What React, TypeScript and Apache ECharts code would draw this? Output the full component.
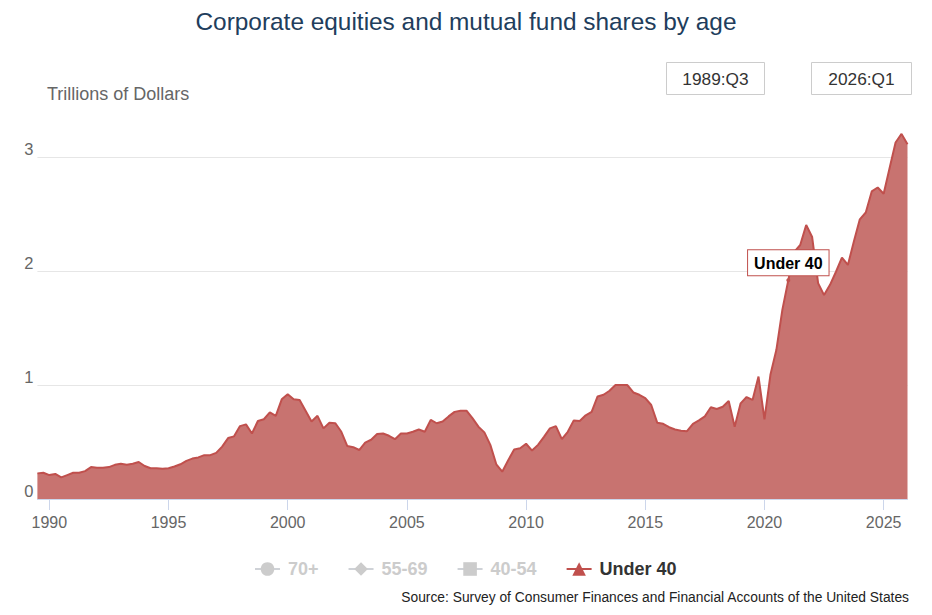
import React, { useEffect, useRef } from "react";
import * as echarts from "echarts";

const startYear = 1989;
const startQuarter = 3;

const under40 = [
  0.225, 0.23, 0.21, 0.22, 0.19, 0.21, 0.23, 0.23, 0.245, 0.28,
  0.275, 0.275, 0.28, 0.3, 0.31, 0.3, 0.31, 0.325, 0.29, 0.27,
  0.27, 0.265, 0.27, 0.285, 0.305, 0.335, 0.355, 0.365, 0.385, 0.385,
  0.405, 0.46, 0.535, 0.55, 0.64, 0.655, 0.575, 0.685, 0.7, 0.76,
  0.73, 0.875, 0.92, 0.875, 0.87, 0.775, 0.68, 0.73, 0.62, 0.67,
  0.665, 0.59, 0.465, 0.455, 0.43, 0.495, 0.52, 0.57, 0.575, 0.555,
  0.525, 0.575, 0.575, 0.59, 0.61, 0.59, 0.695, 0.665, 0.68, 0.725,
  0.765, 0.775, 0.775, 0.71, 0.635, 0.585, 0.475, 0.305, 0.24, 0.34,
  0.435, 0.445, 0.485, 0.425, 0.475, 0.545, 0.62, 0.64, 0.525, 0.59,
  0.69, 0.685, 0.735, 0.765, 0.9, 0.915, 0.95, 1.0, 1.0, 1.0,
  0.935, 0.915, 0.885, 0.825, 0.67, 0.66, 0.63, 0.61, 0.6, 0.595,
  0.66, 0.69, 0.725, 0.805, 0.79, 0.81, 0.86, 0.635, 0.84, 0.895,
  0.87, 1.075, 0.7, 1.09, 1.31, 1.66, 1.92, 2.17, 2.23, 2.405,
  2.3, 1.895, 1.79, 1.88, 1.995, 2.12, 2.055, 2.26, 2.455, 2.515,
  2.7, 2.735, 2.68, 2.905, 3.13, 3.205, 3.115,
];

const categories: string[] = under40.map((_, i) => {
  const q0 = startQuarter - 1 + i;
  const y = startYear + Math.floor(q0 / 4);
  const q = (q0 % 4) + 1;
  return `${y}:Q${q}`;
});

const legendNames = ["70+", "55-69", "40-54", "Under 40"];
const legendSymbols = ["circle", "diamond", "rect", "triangle"];
const yTicks = [0, 1, 2, 3];
const labelIndex = 126;
const rangeLabels = ["1989:Q3", "2026:Q1"];

const FONT = '"Liberation Sans", Arial, Helvetica, sans-serif';
const RED = "#c0504d";

export default function App() {
  const ref = useRef<HTMLDivElement>(null);
  useEffect(() => {
    document.body.style.margin = "0";
    const chart = echarts.init(ref.current!, null, { renderer: "svg" });
    const hidden = legendNames.slice(0, 3).map((n, k) => ({
      name: n,
      type: "line",
      data: [] as number[],
      symbol: legendSymbols[k],
      symbolSize: 10,
      lineStyle: { width: 2 },
    }));
    chart.setOption({
      animation: false,
      textStyle: { fontFamily: FONT },
      title: {
        text: "Corporate equities and mutual fund shares by age",
        left: "center",
        top: 9,
        padding: 0,
        textStyle: { fontSize: 24.4, fontWeight: "normal", color: "#213d5c", fontFamily: FONT },
      },
      legend: {
        data: legendNames,
        left: 254,
        top: 560,
        padding: 0,
        itemGap: 29,
        itemWidth: 25,
        itemHeight: 17,
        inactiveColor: "#cccccc",
        selected: { "70+": false, "55-69": false, "40-54": false, "Under 40": true },
        textStyle: {
          fontSize: 18,
          fontWeight: "bold",
          color: "#333333",
          fontFamily: FONT,
          padding: [0, 0, 0, 3],
        },
      },
      grid: { left: 37.4, right: 24.5, top: 128.8, bottom: 116, containLabel: false },
      xAxis: {
        type: "category",
        boundaryGap: false,
        data: categories,
        axisLine: { lineStyle: { color: "#ccd6eb", width: 1 } },
        axisTick: {
          alignWithLabel: true,
          length: 11,
          lineStyle: { color: "#ccd6eb" },
          interval: (idx: number) => (idx - 2) % 20 === 0,
        },
        axisLabel: {
          interval: (idx: number) => (idx - 2) % 20 === 0,
          formatter: (v: string) => v.slice(0, 4),
          fontSize: 16,
          color: "#666666",
          margin: 15,
          fontFamily: FONT,
        },
        splitLine: { show: false },
      },
      yAxis: {
        type: "value",
        min: yTicks[0],
        max: 3.25,
        interval: 1,
        axisLine: { show: false },
        axisTick: { show: false },
        axisLabel: {
          fontSize: 16.5,
          color: "#666666",
          margin: 4,
          verticalAlign: "bottom",
          showMaxLabel: false,
          fontFamily: FONT,
          formatter: (v: number) => (yTicks.includes(v) ? String(v) : ""),
        },
        splitLine: { show: true, showMaxLine: false, lineStyle: { color: "#e6e6e6", width: 1 } },
      },
      series: [
        ...hidden,
        {
          name: "Under 40",
          type: "line",
          data: under40,
          symbol: "triangle",
          symbolSize: 12,
          showSymbol: false,
          itemStyle: { color: RED },
          lineStyle: { color: RED, width: 2 },
          areaStyle: { color: "#c87370", opacity: 1 },
          markPoint: {
            symbol: "circle",
            symbolSize: 4,
            itemStyle: { color: RED },
            data: [
              {
                coord: [categories[labelIndex], under40[labelIndex]],
                label: {
                  show: true,
                  position: "top",
                  distance: 3,
                  formatter: "Under 40",
                  fontSize: 16,
                  fontWeight: "bold",
                  color: "#000000",
                  backgroundColor: "#ffffff",
                  borderColor: RED,
                  borderWidth: 1,
                  padding: [5, 6, 4, 6],
                  fontFamily: FONT,
                },
              },
            ],
          },
        },
      ],
      graphic: [
        {
          type: "text",
          x: 47,
          y: 94,
          style: { text: "Trillions of Dollars", fontSize: 18, fill: "#666666", fontFamily: FONT, verticalAlign: "middle" },
        },
        {
          type: "rect",
          shape: { x: 666.5, y: 62.5, width: 98, height: 32 },
          style: { fill: "#ffffff", stroke: "#cccccc", lineWidth: 1 },
        },
        {
          type: "text",
          x: 715.5,
          y: 79,
          style: { text: rangeLabels[0], fontSize: 17.3, fill: "#333333", fontFamily: FONT, align: "center", verticalAlign: "middle" },
        },
        {
          type: "rect",
          shape: { x: 811.5, y: 62.5, width: 100, height: 32 },
          style: { fill: "#ffffff", stroke: "#cccccc", lineWidth: 1 },
        },
        {
          type: "text",
          x: 861.5,
          y: 79,
          style: { text: rangeLabels[1], fontSize: 17.3, fill: "#333333", fontFamily: FONT, align: "center", verticalAlign: "middle" },
        },
        {
          type: "text",
          x: 909,
          y: 597,
          style: {
            text: "Source: Survey of Consumer Finances and Financial Accounts of the United States",
            fontSize: 13.8,
            fill: "#222222",
            fontFamily: FONT,
            align: "right",
            verticalAlign: "middle",
          },
        },
      ],
    });
    return () => chart.dispose();
  }, []);
  return <div ref={ref} style={{ position: "absolute", left: 0, top: 0, width: 932, height: 615 }} />;
}
